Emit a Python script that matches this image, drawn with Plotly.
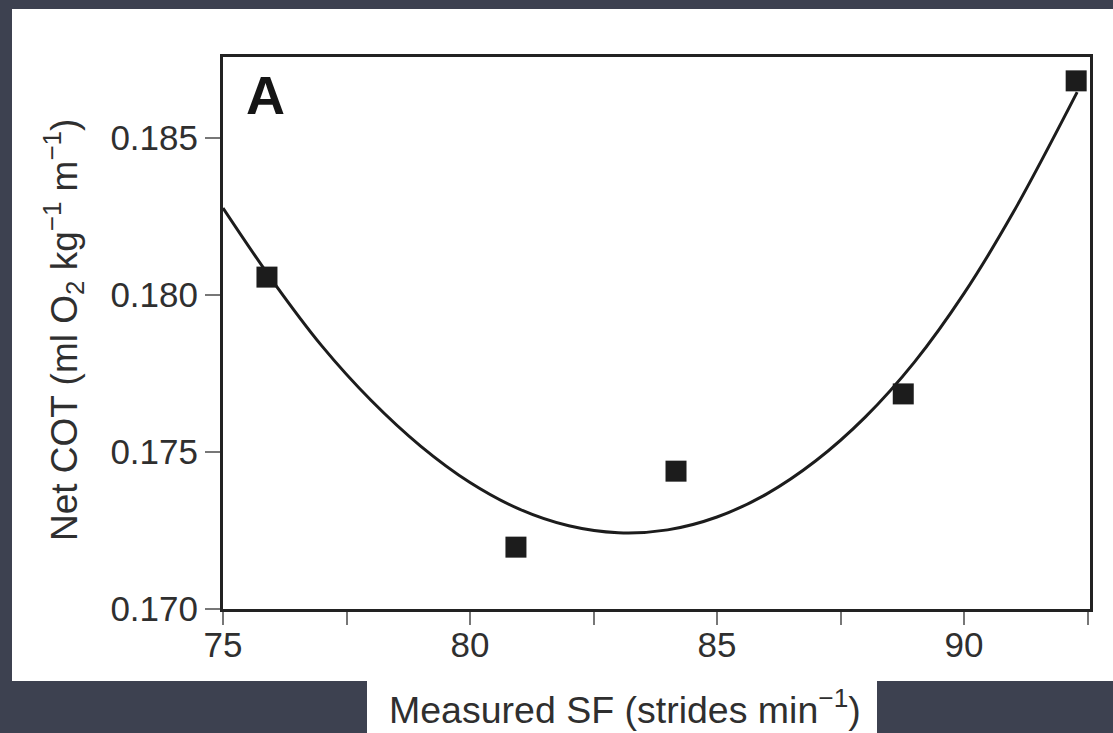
import plotly.graph_objects as go

# Measured stride frequency (strides/min) vs net cost of transport
sf_measured = [75.89, 80.93, 84.17, 88.77, 92.27]
net_cot = [0.18057, 0.17197, 0.17439, 0.17685, 0.18682]

# Fitted curve, sampled along its length
fit_sf = [75.0, 76.0, 77.0, 78.0, 79.0, 80.0, 81.0, 82.0, 83.0, 84.0, 85.0,
          86.0, 87.0, 88.0, 89.0, 90.0, 91.0, 92.29]
fit_cot = [0.18277, 0.18046, 0.17838, 0.17664, 0.17519, 0.17403, 0.17318, 0.17265,
           0.17243, 0.17252, 0.17293, 0.17366, 0.17472, 0.17611, 0.17787, 0.18005,
           0.18264, 0.18646]

x_tickvals = [75, 80, 85, 90]
x_ticktext = ["75", "80", "85", "90"]
x_minor_tickvals = [77.5, 82.5, 87.5, 92.5]
y_tickvals = [0.170, 0.175, 0.180, 0.185]
y_ticktext = ["0.170", "0.175", "0.180", "0.185"]

W, H = 1113, 733
L, R, T, B = 223, 1090, 57, 609
FONT = "Liberation Sans, Arial, Helvetica, sans-serif"
INK = "#1c1c1c"
TXT = "#2f2f2f"


def px_x(p):
    return (p - L) / (R - L)


def px_y(p):
    return (B - p) / (B - T)


fig = go.Figure()
fig.add_trace(go.Scatter(
    x=fit_sf, y=fit_cot, mode="lines",
    line=dict(color=INK, width=3, shape="spline", smoothing=1.0),
    hoverinfo="skip", showlegend=False,
))
fig.add_trace(go.Scatter(
    x=sf_measured, y=net_cot, mode="markers",
    marker=dict(symbol="square", size=21, color=INK, line=dict(width=0)),
    showlegend=False, cliponaxis=False,
))

shapes = [
    # white panel behind the chart
    dict(type="rect", xref="paper", yref="paper", layer="below",
         x0=px_x(12), x1=px_x(1113), y0=px_y(681), y1=px_y(9),
         fillcolor="white", line=dict(width=0)),
    # white strip behind the x-axis title
    dict(type="rect", xref="paper", yref="paper", layer="below",
         x0=px_x(367), x1=px_x(877), y0=px_y(733), y1=px_y(681),
         fillcolor="white", line=dict(width=0)),
]

annotations = [
    dict(text="<b>A</b>", xref="paper", yref="paper", x=px_x(265), y=px_y(95),
         xanchor="center", yanchor="middle", showarrow=False,
         font=dict(family=FONT, size=54, color="#151515")),
    dict(text="Measured SF (strides min<sup>−1</sup>)", xref="paper", yref="paper",
         x=px_x(625), y=px_y(707), xanchor="center", yanchor="middle", showarrow=False,
         font=dict(family=FONT, size=37.5, color=TXT)),
    dict(text="Net COT (ml O<sub>2</sub> kg<sup>−1</sup> m<sup>−1</sup>)", xref="paper", yref="paper",
         x=px_x(63), y=px_y(330), xanchor="center", yanchor="middle", showarrow=False,
         textangle=-90, font=dict(family=FONT, size=37, color=TXT)),
]

fig.update_layout(
    width=W, height=H,
    margin=dict(l=L, r=W - R, t=T, b=H - B, pad=0),
    paper_bgcolor="#3d4150",
    plot_bgcolor="white",
    shapes=shapes,
    annotations=annotations,
    showlegend=False,
    xaxis=dict(
        range=[75, 92.55], tickmode="array", tickvals=x_tickvals, ticktext=x_ticktext,
        ticks="outside", ticklen=13, tickwidth=1.5, tickcolor="#777",
        minor=dict(tickmode="array", tickvals=x_minor_tickvals, ticks="outside",
                   ticklen=13, tickwidth=1.5, tickcolor="#777", showgrid=False),
        ticklabelstandoff=-10,
        showline=True, linecolor="#222", linewidth=3, mirror=True,
        showgrid=False, zeroline=False,
        tickfont=dict(family=FONT, size=35, color=TXT),
    ),
    yaxis=dict(
        range=[0.170, 0.18758], tickmode="array", tickvals=y_tickvals, ticktext=y_ticktext,
        ticks="outside", ticklen=15, tickwidth=1.5, tickcolor="#777",
        showline=True, linecolor="#222", linewidth=3, mirror=True,
        showgrid=False, zeroline=False,
        tickfont=dict(family=FONT, size=35, color=TXT),
    ),
)

fig.write_html("out.html")
